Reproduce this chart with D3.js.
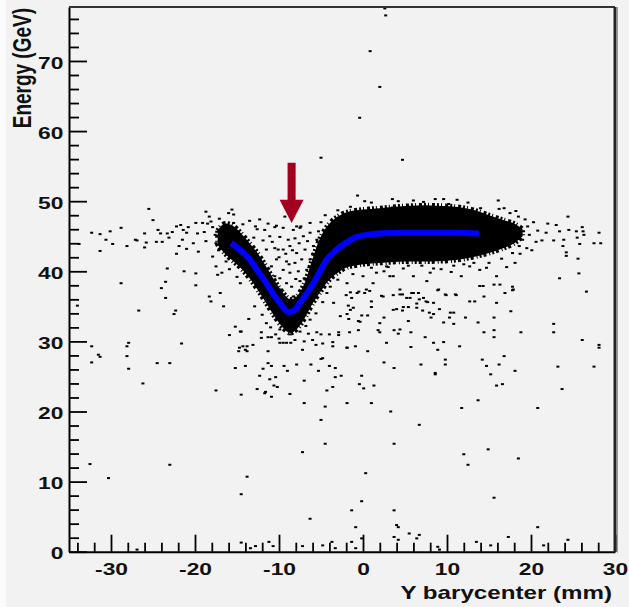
<!DOCTYPE html>
<html>
<head>
<meta charset="utf-8">
<script src="https://cdn.jsdelivr.net/npm/d3@7"></script>
<style>
  body { margin: 0; background: #f2f2f2; }
  svg { display: block; }
  text { font-family: 'Liberation Sans', Arial, Helvetica, sans-serif; font-weight: bold; fill: #111; }
</style>
</head>
<body>
<svg id="chart" width="629" height="607"></svg>
<script>
// axis ticks
const xTicks = [-30, -20, -10, 0, 10, 20, 30];
const yTicks = [0, 10, 20, 30, 40, 50, 60, 70];

// blue fit curve
const fitX = [-15.7, -14.6, -13.5, -12.5, -11.5, -10.6, -9.9, -8.9, -8.0, -7.5, -6.7, -5.9, -5.1, -4.3, -3.5, -2.7, -1.7, -0.75, 0.5, 2.0, 4.4, 8.0, 11.0, 13.8];
const fitY = [44.0, 43.0, 41.7, 40.0, 38.3, 36.6, 35.5, 34.2, 34.6, 35.5, 36.8, 38.3, 40.0, 41.7, 42.7, 43.5, 44.3, 44.9, 45.2, 45.4, 45.5, 45.5, 45.5, 45.4];

// the solid black core of the distribution (upper / lower edge)
const coreX = [-17.3, -16.5, -15.5, -14.5, -13.5, -12.5, -11.5, -10.5, -9.5, -8.7, -8.0, -7.0, -6.0, -5.0, -4.0, -3.0, -2.0, 0.0, 2.0, 5.0, 8.0, 11.0, 13.0, 15.0, 16.5, 18.0, 19.0];
const coreUpper = [45.8, 46.8, 46.5, 45.4, 44.0, 42.5, 40.6, 38.6, 36.9, 36.0, 36.3, 38.2, 41.8, 45.0, 46.8, 47.8, 48.4, 48.8, 49.0, 49.3, 49.4, 49.2, 48.8, 48.0, 47.4, 46.8, 46.0];
const coreLower = [43.8, 42.6, 41.5, 40.4, 39.0, 37.3, 35.4, 33.5, 31.9, 31.2, 31.6, 33.2, 35.4, 37.2, 38.8, 39.8, 40.5, 41.0, 41.2, 41.4, 41.4, 41.6, 42.0, 42.6, 43.2, 44.0, 45.0];

// scattered events [Y barycenter, energy]
const upperHits = [[2.6,77.5],[2.7,76.5],[0.85,71.4],[2.0,66.3],[-0.4,61.9],[-5.0,56.2],[4.7,55.9],[-0.65,50.8],[3.5,49.1],[5.9,48.9],[8.6,49.1],[9.6,49.1],[16.2,48.9]];

const leftHits = [[-33.8,43.9],[-32.3,45.5],[-31.3,45.3],[-31.3,42.9],[-30.6,44.5],[-30.1,45.7],[-29.8,43.9],[-28.8,46.2],[-28.1,43.6],[-28.8,38.3],
  [-27.1,44.5],[-26.9,44.4],[-26.0,45.4],[-25.8,44.1],[-25.5,48.9],[-25.0,47.3],[-26.0,43.4],[-24.4,45.9],[-24.1,45.4],[-24.6,44.2],
  [-23.9,44.2],[-23.3,45.4],[-23.1,44.8],[-22.7,45.6],[-22.2,46.4],[-21.7,46.6],[-21.4,45.9],[-21.0,45.5],[-20.8,46.3],[-21.5,44.5],
  [-22.2,42.5],[-21.9,43.6],[-21.0,43.2],[-23.3,40.4],[-23.5,38.5],[-24.0,37.6],[-23.5,36.2],[-26.7,34.4],[-22.3,34.4],[-22.5,33.9],
  [-21.3,40.0],[-19.9,39.7],[-19.9,38.0],[-19.9,46.9],[-19.7,45.4],[-20.2,44.0],[-19.6,42.8],[-19.1,46.9],[-18.7,44.3],[-18.7,48.5],
  [-18.3,47.8],[-18.1,47.1],[-17.9,46.3],[-17.6,45.2],[-17.5,44.0],[-17.2,43.0],[-17.9,42.1],[-17.5,40.7],[-17.3,39.5],[-18.3,36.4],
  [-18.1,35.7],[-16.0,48.3],[-15.6,48.8],[-15.4,48.1],[-15.4,46.9],[-15.2,32.1],[-15.9,30.9],[-34.0,35.1],[-32.3,29.3],[-31.5,28.1],
  [-31.3,27.8],[-32.3,27.0],[-27.9,29.8],[-28.1,29.3],[-28.1,27.9],[-27.9,26.1],[-26.2,24.0],[-24.5,26.9],[-23.0,26.9],[-21.6,29.7],
  [-32.5,12.5],[-30.3,10.5],[-23.0,12.4],[-17.5,23.0],[-26.9,0.3],
  [-18.9,45.6],[-18.5,46.8],[-17.1,47.5],[-16.6,46.0],[-16.9,44.6],[-16.3,41.4],[-15.9,40.3],[-15.0,39.2],[-14.6,38.3],[-16.8,39.8]];

const dipHits = [[-11.3,46.8],[-9.5,46.2],[-8.3,45.9],[-7.5,46.2],[-6.3,46.9],[-11.1,45.0],[-9.9,44.9],[-8.9,44.5],[-8.1,44.7],[-7.1,45.0],
  [-6.3,45.5],[-5.3,45.7],[-11.5,43.1],[-10.5,43.3],[-9.5,43.1],[-8.7,43.6],[-7.9,42.6],[-6.9,43.1],[-5.9,43.6],[-10.3,41.7],
  [-9.1,41.4],[-8.1,41.2],[-7.3,41.7],[-6.3,41.7],[-9.5,40.2],[-8.7,39.8],[-7.7,40.0],[-6.7,40.2],[-9.1,38.3],[-8.5,37.8],
  [-7.5,38.6],[-9.7,37.4],[-6.9,37.1],[-8.3,36.4],[-7.3,35.9],[-10.5,39.3],[-5.9,39.3],[-10.9,40.7],[-5.5,40.7],[-10.1,43.1],
  [-11.7,45.9],[-12.3,47.4],[-9.3,47.8],[-7.9,46.4],[-10.3,46.5],[-10.8,44.2],[-9.2,42.5],[-8.4,43.0],[-7.6,44.0],[-6.6,44.3],
  [-10.0,42.0],[-8.0,38.9],[-9.9,39.0],[-7.0,39.0],[-8.8,41.0],[-6.0,42.5],[-11.9,44.4],[-12.6,46.0],[-13.5,47.2],[-14.3,46.7],
  [-5.5,44.5],[-5.0,47.0],[-4.5,48.0],[-13.0,44.8],[-12.8,46.4],[-10.5,46.3],[-7.4,46.4]];

const lowHits = [[-11.5,32.6],[-9.9,31.7],[-8.7,31.0],[-7.5,31.4],[-6.3,33.1],[-9.5,29.8],[-14.6,31.4],[-16.6,35.0],[-17.0,36.9],[-2.7,33.6],
  [-1.5,34.5],[-0.7,36.9],[1.2,38.3],[2.4,36.4],[3.6,34.5],[2.0,32.6],[4.4,31.7],[-13.8,29.3],[2.8,29.8],[-4.3,36.9],
  [-3.5,35.5],[-1.9,38.3],[0.0,39.3],[0.4,37.4],[3.6,39.3],[2.8,40.7],
  [-15.2,26.2],[-14.5,31.4],[-14.7,29.1],[-14.8,28.6],[-14.3,29.3],[-14.0,28.8],[-13.8,28.6],[-14.0,26.5],[-14.5,22.4],[-13.1,29.5],
  [-12.3,25.1],[-12.6,23.2],[-11.9,26.1],[-11.7,22.6],[-11.6,22.8],[-11.3,28.6],[-11.3,26.9],[-11.1,24.6],[-10.9,26.5],[-10.9,22.1],
  [-10.6,23.7],[-10.4,24.9],[-10.2,23.5],[-9.9,29.8],[-9.4,26.5],[-9.1,29.8],[-9.0,25.8],[-8.7,22.5],[-8.6,29.8],[-7.9,26.7],
  [-7.2,28.8],[-7.0,24.4],[-7.0,21.2],[-6.2,26.7],[-6.0,30.2],[-5.6,29.5],[-5.3,25.8],[-5.0,27.5],[-4.8,27.6],[-4.8,29.7],
  [-4.5,20.7],[-4.3,23.0],[-4.0,26.5],[-3.6,23.5],[-3.6,29.3],[-3.6,29.9],[-3.3,26.2],[-3.3,24.9],[-2.9,31.3],[-2.9,30.9],
  [-2.6,25.1],[-1.9,29.1],[-1.9,21.2],[-5.0,18.8],[-4.5,15.4],[-7.2,14.2],[-13.8,10.7],[-14.5,8.2],[-6.3,4.7],[-14.5,1.3],
  [-13.4,0.5],[-12.8,0.8],[-11.2,1.4],[-10.7,0.8],[-7.2,0.8],[-4.8,0.9],[-3.7,1.4],[-3.3,0.5],[-12.1,31.3],[-12.1,30.5],
  [-11.3,30.6],[-10.9,30.6],[-6.5,31.1],[-5.5,31.3],[-5.0,31.0],[-4.0,31.0],
  [2.2,36.5],[1.0,35.7],[1.0,34.9],[-1.35,36.2],[-1.15,34.8],[-1.75,35.1],[-0.55,32.9],[-0.35,32.8],[-0.15,33.7],[0.55,33.7],
  [-1.7,33.2],[-1.9,33.9],[2.5,33.4],[4.0,34.6],[4.4,36.7],[4.7,36.7],[4.7,34.4],[4.8,34.9],[5.4,34.9],[5.4,32.9],
  [5.2,36.2],[5.8,36.9],[6.0,36.9],[6.4,35.4],[6.4,34.8],[6.7,36.0],[7.2,36.2],[7.5,35.7],[7.7,35.6],[7.1,34.4],
  [7.9,34.1],[8.1,33.4],[8.4,33.9],[8.4,35.5],[9.1,34.6],[8.9,37.3],[9.8,36.7],[11.0,36.7],[9.6,32.7],[10.4,34.1],
  [10.8,34.1],[10.3,33.4],[10.8,32.5],[12.2,33.4],[12.7,35.7],[13.3,35.7],[14.4,36.4],[15.9,35.5],[16.9,36.9],[17.8,37.3],
  [17.6,34.3],[15.6,33.4],[13.7,32.7],[-1.6,31.3],[-0.55,31.6],[1.8,31.6],[2.0,31.3],[3.7,31.6],[4.2,31.1],[5.7,31.3],
  [7.4,30.6],[8.4,29.8],[8.9,28.8],[9.6,29.9],[9.8,27.4],[9.8,26.7],[11.5,29.3],[14.4,31.3],[15.6,31.6],[15.6,30.6],
  [18.8,31.3],[22.7,32.5],[22.7,31.3],[26.1,30.2],[28.1,29.5],[28.1,29.1],[27.5,26.4],[23.2,26.4],[23.7,23.2],[-1.9,29.1],
  [-0.9,29.3],[0.56,28.6],[5.7,29.2],[6.9,26.7],[2.5,27.0],[3.7,26.2],[8.6,25.5],[8.6,25.3],[14.2,27.4],[14.7,26.5],
  [16.2,26.7],[16.8,27.9],[18.1,25.8],[15.2,25.3],[15.9,23.7],[16.6,23.9],[-0.16,25.1],[-0.43,23.9],[0.08,23.3],[1.3,23.7],
  [1.0,21.2],[3.3,20.0],[11.75,20.5],[13.7,21.6],[20.8,20.5],[6.7,18.1],[3.7,15.4],[12.0,13.9],[14.9,14.6],[12.5,12.4],
  [18.5,13.3],[0.32,11.2],[-0.16,7.2],[-1.35,5.9],[3.7,5.9],[15.6,7.7],[-0.87,3.5],[4.0,3.8],[4.2,3.5],[20.8,3.5],
  [5.5,2.6],[6.7,2.4],[6.4,1.9],[3.7,2.1],[4.2,1.7],[-0.16,1.9],[-1.35,1.4],[-0.87,0.5],[8.9,0.7],[9.1,0.3],
  [13.5,1.4],[15.2,0.9],[17.3,2.1],[21.5,0.9],[24.4,1.7],[-1.5,37.0],[-0.5,37.1],[0.2,36.9],[0.8,37.2],[-2.0,36.6],
  [-12.9,35.0],[-12.0,33.8],[-11.0,32.0],[-10.4,31.0],[-8.1,30.2],[-6.8,32.2],[-5.6,34.0],[-4.8,35.6],[-3.9,37.8],[-3.0,38.8],
  [-1.2,39.6],[1.6,39.8],[3.0,40.6],[5.4,40.8],[8.4,40.4],[10.8,40.8],[13.2,41.2],[-13.6,33.2],[-10.0,30.4],[-7.0,30.0]];

const rightHits = [[19.3,47.4],[20.3,47.0],[21.3,44.4],[22.0,46.8],[22.7,44.4],[23.0,46.6],[23.4,45.7],[23.8,43.6],[23.9,44.5],[24.2,42.7],
  [24.2,42.2],[24.4,47.8],[24.5,45.9],[25.4,45.7],[25.5,44.8],[25.6,41.8],[25.7,39.7],[25.8,43.9],[26.1,46.3],[26.2,45.7],
  [26.3,45.2],[26.6,37.1],[27.5,44.0],[28.1,45.5],[28.3,44.0],[23.4,39.0],[16.1,50.1],[8.6,50.3],[9.6,50.3],[10.2,49.6],
  [3.5,50.3],[6.0,50.1],[19.5,43.3],[20.1,43.0],[18.7,42.5],[18.1,41.2],[17.8,37.8],[17.9,37.4],[16.3,38.1],[15.6,38.1],
  [14.3,37.9],[13.9,37.9],[12.7,40.7],[11.7,39.3],[11.1,36.6],[9.9,36.6],[9.0,37.4],[7.6,38.6],[6.6,36.9],[5.6,36.2],
  [4.4,37.4],[3.6,36.6],[13.9,40.2],[14.7,40.5],[17.1,40.6],[15.9,39.3],[8.0,39.8],[6.0,39.3],[3.2,39.3],[1.0,40.5],
  [2.5,40.0],[4.8,40.4],[7.0,40.8],[9.3,40.3],[10.5,39.9],[12.0,41.0],[15.0,41.2],[16.5,41.8],[19.0,44.5],[18.5,47.8],
  [17.5,48.3],[12.5,49.8],[14.0,49.0],[1.0,49.8],[-1.5,49.2],[-3.0,48.7],[19.8,45.2],[20.8,45.8],[21.8,45.5],
  [17.8,42.6],[18.6,43.6],[19.6,46.4],[20.6,44.2],[18.2,48.6],[16.8,49.0],[11.2,50.2],[7.2,49.9],[4.2,50.0],[0.2,50.0]];

// arrow marking the dip
const arrow = { x: -8.5, top: 55.5, headBase: 50.2, tip: 46.9, shaftHalf: 0.48, headHalf: 1.43 };

const svg = d3.select('#chart');
const stretch = 1.38; // the picture is wider than tall, glyphs too

const plotLeft = 69, plotRight = 615, plotTop = 7, plotBottom = 551.7;

const x = d3.scaleLinear().domain([-35, 30]).range([plotLeft, plotRight]);
const y = d3.scaleLinear().domain([0, 77.7]).range([plotBottom, plotTop]);

svg.append('rect').attr('x', 0).attr('y', 0).attr('width', 6).attr('height', 607).attr('fill', '#fbfbfb');

// dense core, with a broken outline so the edge looks grainy
const core = coreX.map((d, i) => ({ x: d, lo: coreLower[i], hi: coreUpper[i] }));
const coreArea = d3.area()
  .x(d => x(d.x))
  .y0(d => y(d.lo))
  .y1(d => y(d.hi))
  .curve(d3.curveCatmullRom);
svg.append('path')
  .datum(core)
  .attr('fill', '#000')
  .attr('d', coreArea);
svg.append('path')
  .datum(core)
  .attr('fill', 'none')
  .attr('stroke', '#000')
  .attr('stroke-width', 5)
  .attr('stroke-dasharray', '2 2 1 3 3 2')
  .attr('d', coreArea);

// scattered points
const allHits = [].concat(upperHits, leftHits, dipHits, lowHits, rightHits);
svg.append('g')
  .selectAll('rect')
  .data(allHits)
  .join('rect')
  .attr('x', d => x(d[0]) - 1.5)
  .attr('y', d => y(d[1]) - 1)
  .attr('width', 3)
  .attr('height', 2)
  .attr('fill', '#000');

// fit curve
const fit = fitX.map((d, i) => ({ x: d, y: fitY[i] }));
svg.append('path')
  .datum(fit)
  .attr('fill', 'none')
  .attr('stroke', '#0000ff')
  .attr('stroke-width', 6)
  .attr('d', d3.line().x(d => x(d.x)).y(d => y(d.y)).curve(d3.curveCatmullRom));

// arrow
const arrowPts = [
  [arrow.x - arrow.shaftHalf, arrow.top], [arrow.x + arrow.shaftHalf, arrow.top],
  [arrow.x + arrow.shaftHalf, arrow.headBase], [arrow.x + arrow.headHalf, arrow.headBase],
  [arrow.x, arrow.tip], [arrow.x - arrow.headHalf, arrow.headBase],
  [arrow.x - arrow.shaftHalf, arrow.headBase]
];
svg.append('path')
  .attr('d', 'M' + arrowPts.map(p => x(p[0]) + ',' + y(p[1])).join('L') + 'Z')
  .attr('fill', '#a3001f');

// minor ticks
const minorX = d3.range(-34, 30, 2).filter(v => v % 10 !== 0);
const minorY = d3.range(2, 77, 2).filter(v => v % 10 !== 0);

svg.append('g')
  .attr('transform', `translate(0,${plotBottom})`)
  .call(d3.axisBottom(x).tickValues(minorX).tickSize(-9).tickSizeOuter(0).tickFormat(''))
  .call(g => g.select('.domain').remove());

svg.append('g')
  .attr('transform', `translate(${plotLeft},0)`)
  .call(d3.axisLeft(y).tickValues(minorY).tickSize(-10).tickSizeOuter(0).tickFormat(''))
  .call(g => g.select('.domain').remove());

// major ticks and labels (plain hyphen, like the original)
const xAxis = svg.append('g')
  .attr('transform', `translate(0,${plotBottom})`)
  .call(d3.axisBottom(x).tickValues(xTicks).tickSize(-17).tickSizeOuter(0).tickFormat(d => String(d)));
xAxis.selectAll('text')
  .attr('y', 23.3)
  .attr('dy', null)
  .attr('transform', `scale(${stretch},1)`)
  .style('font-size', '16.5px');

const yAxis = svg.append('g')
  .attr('transform', `translate(${plotLeft},0)`)
  .call(d3.axisLeft(y).tickValues(yTicks).tickSize(-18).tickSizeOuter(0).tickFormat(d => String(d)));
yAxis.selectAll('text')
  .attr('x', 0)
  .attr('dy', '0.43em')
  .attr('transform', `translate(-5.7,0) scale(${stretch},1)`)
  .style('font-size', '16.5px');

svg.selectAll('.tick line').attr('stroke', '#000').attr('stroke-width', 1.8);
svg.selectAll('.domain').attr('stroke', '#000').attr('stroke-width', 2);

// frame top / right
svg.append('line').attr('x1', plotLeft).attr('x2', plotRight).attr('y1', plotTop).attr('y2', plotTop)
  .attr('stroke', '#333').attr('stroke-width', 2);
svg.append('line').attr('x1', plotRight).attr('x2', plotRight).attr('y1', plotTop).attr('y2', plotBottom)
  .attr('stroke', '#222').attr('stroke-width', 3);
svg.append('line').attr('x1', plotRight + 2.5).attr('x2', plotRight + 2.5).attr('y1', plotTop).attr('y2', plotBottom + 1)
  .attr('stroke', '#999').attr('stroke-width', 1);

// axis titles
svg.append('text')
  .attr('transform', `translate(612,599) scale(${stretch},1)`)
  .attr('text-anchor', 'end')
  .style('font-size', '17.5px')
  .text('Y barycenter (mm)');

svg.append('text')
  .attr('transform', `translate(31,8) scale(${stretch},1) rotate(-90)`)
  .attr('text-anchor', 'end')
  .style('font-size', '19px')
  .text('Energy (GeV)');
</script>
</body>
</html>
